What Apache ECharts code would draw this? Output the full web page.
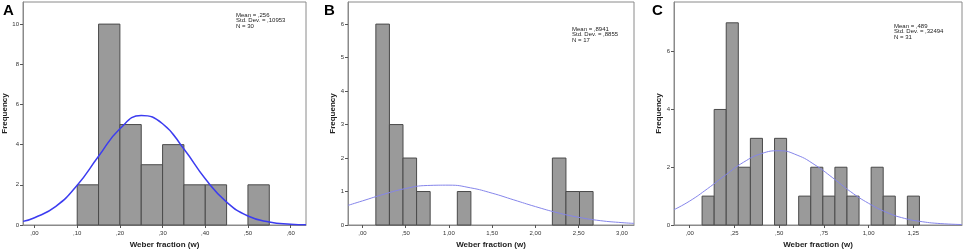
<!DOCTYPE html>
<html>
<head>
<meta charset="utf-8">
<script src="https://cdn.jsdelivr.net/npm/echarts@6/dist/echarts.min.js"></script>
<style>
  html, body { margin: 0; padding: 0; background: #fff; }
  #chart { width: 964px; height: 250px; }
</style>
</head>
<body>
<div id="chart"></div>
<script>
// panel A
const aEdges = [0.10, 0.15, 0.20, 0.25, 0.30, 0.35, 0.40, 0.45, 0.50, 0.55]
const aCounts = [2, 10, 5, 3, 4, 2, 2, 0, 2]
const aCurveX = [-0.027, 0, 0.05, 0.10, 0.15, 0.20, 0.25, 0.30, 0.35, 0.40, 0.45, 0.50, 0.55, 0.60, 0.636]
const aCurveY = [0.18, 0.36, 0.93, 1.98, 3.42, 4.79, 5.45, 5.04, 3.78, 2.30, 1.14, 0.45, 0.15, 0.04, 0.01]
const aXTicks = [0, 0.1, 0.2, 0.3, 0.4, 0.5, 0.6]
const aYTicks = [0, 2, 4, 6, 8, 10]
const aStats = ['Mean = ,256', 'Std. Dev. = ,10953', 'N = 30']

// panel B
const bEdges = [0.155, 0.312, 0.469, 0.626, 0.783, 0.940, 1.097, 1.254, 1.411, 1.568, 1.725, 1.882, 2.039, 2.196, 2.353, 2.510, 2.667]
const bCounts = [6, 3, 2, 1, 0, 0, 1, 0, 0, 0, 0, 0, 0, 2, 1, 1]
const bCurveX = [-0.167, 0, 0.25, 0.5, 0.75, 1.0, 1.25, 1.5, 1.75, 2.0, 2.25, 2.5, 2.75, 3.0, 3.14]
const bCurveY = [0.586, 0.72, 0.92, 1.09, 1.18, 1.19, 1.11, 0.95, 0.75, 0.55, 0.37, 0.23, 0.13, 0.071, 0.048]
const bXTicks = [0, 0.5, 1.0, 1.5, 2.0, 2.5, 3.0]
const bYTicks = [0, 1, 2, 3, 4, 5, 6]
const bStats = ['Mean = ,8941', 'Std. Dev. = ,8855', 'N = 17']

// panel C
const cEdges = [0.069, 0.1365, 0.204, 0.2715, 0.339, 0.4065, 0.474, 0.5415, 0.609, 0.6765, 0.744, 0.8115, 0.879, 0.9465, 1.014, 1.0815, 1.149, 1.2165, 1.284]
const cCounts = [1, 4, 7, 2, 3, 0, 3, 0, 1, 2, 1, 2, 1, 0, 2, 1, 0, 1]
const cCurveX = [-0.088, 0, 0.1, 0.2, 0.3, 0.4, 0.5, 0.6, 0.7, 0.8, 0.9, 1.0, 1.1, 1.2, 1.3, 1.4, 1.522]
const cCurveY = [0.53, 0.83, 1.26, 1.73, 2.17, 2.47, 2.57, 2.42, 2.08, 1.63, 1.15, 0.75, 0.44, 0.23, 0.114, 0.05, 0.016]
const cXTicks = [0, 0.25, 0.5, 0.75, 1.0, 1.25]
const cYTicks = [0, 2, 4, 6]
const cStats = ['Mean = ,489', 'Std. Dev. = ,32494', 'N = 31']

const font = 'Liberation Sans, Arial, sans-serif'

const panels = [
  { letter: 'A', edges: aEdges, counts: aCounts, cx: aCurveX, cy: aCurveY, xt: aXTicks, yt: aYTicks, stats: aStats,
    left: 23, width: 283, xmin: -0.027, xmax: 0.636, ymax: 11.1, yGap: 14, curve: '#3c3cf0', curveW: 1.5,
    letterX: 3, letterY: 3, statX: 236, statY: 12 },
  { letter: 'B', edges: bEdges, counts: bCounts, cx: bCurveX, cy: bCurveY, xt: bXTicks, yt: bYTicks, stats: bStats,
    left: 348, width: 286, xmin: -0.167, xmax: 3.14, ymax: 6.66, yGap: 10, curve: '#8585ea', curveW: 1,
    letterX: 324, letterY: 3, statX: 572, statY: 26 },
  { letter: 'C', edges: cEdges, counts: cCounts, cx: cCurveX, cy: cCurveY, xt: cXTicks, yt: cYTicks, stats: cStats,
    left: 674, width: 288, xmin: -0.088, xmax: 1.522, ymax: 7.72, yGap: 8, curve: '#8585ea', curveW: 1,
    letterX: 652, letterY: 3, statX: 894, statY: 23 },
]

const fmtX = (v) => {
  let s = v.toFixed(2).replace('.', ',')
  if (s.indexOf('0,') === 0) s = s.slice(1)
  return s
}

const grid = [], xAxis = [], yAxis = [], series = [], graphic = []

panels.forEach((p, i) => {
  grid.push({
    left: p.left, top: 2, width: p.width, height: 223, outerBoundsMode: 'none', containLabel: false,
    show: true, borderColor: '#8a8a8a', borderWidth: 1, backgroundColor: '#fff',
  })
  xAxis.push({
    type: 'value', gridIndex: i, min: p.xmin, max: p.xmax,
    name: 'Weber fraction (w)', nameLocation: 'middle', nameGap: 15,
    nameTextStyle: { fontFamily: font, fontWeight: 'bold', fontSize: 8, color: '#222' },
    splitLine: { show: false },
    axisLine: { show: true, onZero: false, lineStyle: { color: '#8a8a8a' } },
    axisTick: { show: true, length: 3, customValues: p.xt, lineStyle: { color: '#555' } },
    axisLabel: { customValues: p.xt, formatter: fmtX, fontFamily: font, fontSize: 6, color: '#333', margin: 5 },
  })
  yAxis.push({
    type: 'value', gridIndex: i, min: 0, max: p.ymax,
    name: 'Frequency', nameLocation: 'middle', nameGap: p.yGap,
    nameTextStyle: { fontFamily: font, fontWeight: 'bold', fontSize: 8, color: '#222' },
    splitLine: { show: false },
    axisLine: { show: true, onZero: false, lineStyle: { color: '#8a8a8a' } },
    axisTick: { show: true, length: 3, customValues: p.yt, lineStyle: { color: '#555' } },
    axisLabel: { customValues: p.yt, fontFamily: font, fontSize: 6, color: '#333', margin: 4 },
  })
  const bins = []
  p.counts.forEach((c, k) => {
    if (c > 0) bins.push([p.edges[k], p.edges[k + 1], c])
  })
  series.push({
    type: 'custom', xAxisIndex: i, yAxisIndex: i, data: bins,
    encode: { x: [0, 1], y: 2 },
    renderItem: (params, api) => {
      const p0 = api.coord([api.value(0), 0])
      const p1 = api.coord([api.value(1), api.value(2)])
      return {
        type: 'rect',
        shape: { x: p0[0], y: p1[1], width: p1[0] - p0[0], height: p0[1] - p1[1] },
        style: { fill: '#9a9a9a', stroke: '#4a4a4a', lineWidth: 1 },
      }
    },
  })
  series.push({
    type: 'line', xAxisIndex: i, yAxisIndex: i, smooth: true, showSymbol: false,
    data: p.cx.map((x, k) => [x, p.cy[k]]),
    lineStyle: { color: p.curve, width: p.curveW },
    z: 5,
  })
  graphic.push({
    type: 'text', left: p.letterX, top: p.letterY,
    style: { text: p.letter, fontFamily: font, fontWeight: 'bold', fontSize: 15, fill: '#000' },
  })
  graphic.push({
    type: 'text', left: p.statX, top: p.statY,
    style: { text: p.stats.join('\n'), fontFamily: font, fontSize: 6, lineHeight: 5.5, fill: '#222' },
  })
})

const chart = echarts.init(document.getElementById('chart'))
chart.setOption({
  animation: false,
  grid, xAxis, yAxis, series, graphic,
})
</script>
</body>
</html>
